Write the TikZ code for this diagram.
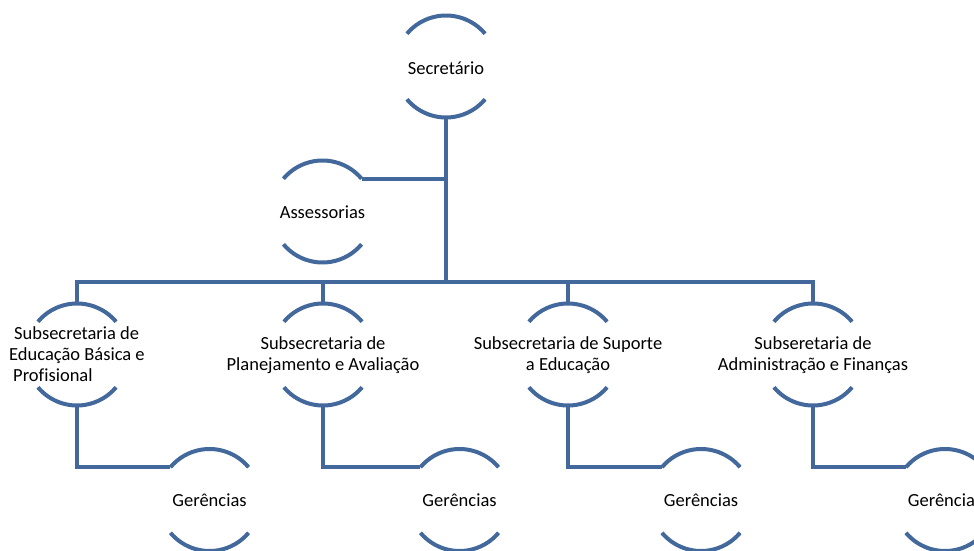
\documentclass[tikz,border=0pt]{standalone}
\usepackage{fontspec}
\setmainfont[Ligatures=NoCommon]{Carlito}
\definecolor{orgblue}{RGB}{66,104,156}
\begin{document}
\begin{tikzpicture}[x=1pt,y=1pt,
  ring/.style={circle,draw=none,minimum size=102pt,inner sep=0pt,outer sep=0pt},
  lbl/.style={font=\fontsize{18.5}{21}\selectfont,inner sep=0pt,align=center,text=black},
  conn/.style={draw=orgblue,line width=4pt},
  arcs/.style={draw=orgblue,line width=4pt}]
\useasboundingbox (0,0) rectangle (974,-551);
% rings
\node[ring] (sec) at (446,-66.5) {};
\node[ring] (ass) at (322.5,-211.5) {};
\node[ring] (c1) at (77,-354.5) {};
\node[ring] (c2) at (323,-354.5) {};
\node[ring] (c3) at (568,-354.5) {};
\node[ring] (c4) at (813,-354.5) {};
\node[ring] (g1) at (209.5,-500) {};
\node[ring] (g2) at (459.5,-500) {};
\node[ring] (g3) at (701,-500) {};
\node[ring] (g4) at (945,-500) {};
% arcs
\foreach \n in {sec,ass,c1,c2,c3,c4,g1,g2,g3,g4}{
  \draw[arcs] (\n.40) arc[start angle=40,end angle=140,radius=51];
  \draw[arcs] (\n.220) arc[start angle=220,end angle=320,radius=51];
}
% labels
\node[lbl] (secl) at (446,-68) {Secretário};
\node[lbl] (assl) at (322.5,-212) {Assessorias};
\node[lbl,align=left,anchor=west] (c1l) at (9,-354.5) {\hspace*{5pt}Subsecretaria de\\Educação Básica e\\\hspace*{4pt}Profisional};
\node[lbl] (c2l) at (323,-355.5) {Subsecretaria de\\Planejamento e Avaliação};
\node[lbl] (c3l) at (568,-355.5) {Subsecretaria de Suporte\\a Educação};
\node[lbl] (c4l) at (813,-355.5) {Subseretaria de\\Administração e Finanças};
\node[lbl] (g1l) at (209.5,-500) {Gerências};
\node[lbl] (g2l) at (459.5,-500) {Gerências};
\node[lbl] (g3l) at (701,-500) {Gerências};
\node[lbl] (g4l) at (945,-500) {Gerências};
% connectors
\coordinate (bus) at (0,-282);
\draw[conn] (sec.south) -- (sec.south |- bus);
\draw[conn] (ass.40) -- (ass.40 -| sec.south);
\draw[conn,line cap=rect] (c1.north |- bus) -- (c4.north |- bus);
\foreach \c in {c1,c2,c3,c4}{
  \draw[conn] (\c.north) -- (\c.north |- bus);
}
\draw[conn] (c1.south) |- (g1.140);
\draw[conn] (c2.south) |- (g2.140);
\draw[conn] (c3.south) |- (g3.140);
\draw[conn] (c4.south) |- (g4.140);
\end{tikzpicture}
\end{document}
